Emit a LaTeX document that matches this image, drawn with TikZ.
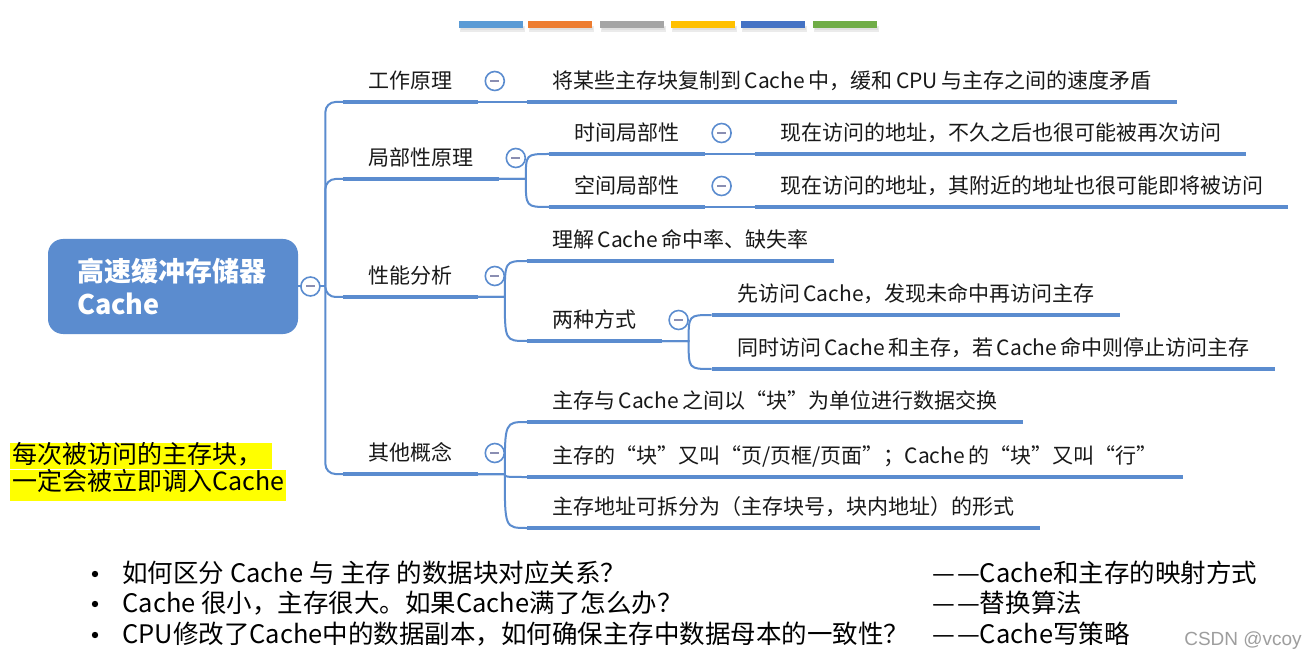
\documentclass[tikz,border=0pt]{standalone}
\usepackage{fontspec}
\setmainfont{Noto Sans CJK SC}
\newfontfamily\wmfont{Liberation Sans}
\usepackage{xcolor}
\usepackage{tikz}
\usetikzlibrary{positioning,calc}

\definecolor{mapblue}{RGB}{91,140,207}
\definecolor{minusgray}{RGB}{138,142,178}
\definecolor{hlyellow}{RGB}{255,255,0}
\definecolor{barA}{HTML}{5B9BD5}
\definecolor{barB}{HTML}{ED7D31}
\definecolor{barC}{HTML}{A5A5A5}
\definecolor{barD}{HTML}{FFC000}
\definecolor{barE}{HTML}{4472C4}
\definecolor{barF}{HTML}{70AD47}

\tikzset{
  root/.style={fill=mapblue, rounded corners=7.5pt, minimum width=125pt, minimum height=47.5pt,
    text width=96pt, align=left, text=white, font=\fontsize{13.5}{16.5}\selectfont\bfseries},
  topic/.style={anchor=south west, inner xsep=12.5pt, inner ysep=5pt, text height=8.5pt,
    text depth=1.5pt, text=black!90, font=\fontsize{10.5}{12}\selectfont},
  ubar/.style={mapblue, line width=2.2pt},
  link/.style={mapblue, line width=1pt},
  fold/.style={circle, draw=mapblue, fill=white, line width=0.8pt, minimum size=9.5pt, inner sep=0pt,
    path picture={\draw[minusgray, line width=1pt] ([xshift=-2.2pt]path picture bounding box.center)
      -- ([xshift=2.2pt]path picture bounding box.center);}},
  ask/.style={anchor=west, inner sep=0pt, font=\fontsize{12.75}{15}\selectfont},
  dot/.style={circle, fill=black, minimum size=3.2pt, inner sep=0pt},
  hl/.style={anchor=north west, fill=hlyellow, inner xsep=1pt, inner ysep=0pt, text height=10pt,
    text depth=3pt, font=\fontsize{12.5}{14}\selectfont},
  wm/.style={text=black!38, font=\wmfont\fontsize{9.5}{11}\selectfont},
}

\begin{document}
\begin{tikzpicture}[x=0.5pt,y=-0.5pt]
\useasboundingbox (0,0) rectangle (1315,662);
\fill[white] (0,0) rectangle (1315,662);

% colour bars on top
\foreach \x/\c in {459/barA,528/barB,600/barC,671/barD,741/barE,813/barF}{
  \fill[black!8] (\x+1,26) rectangle (\x+66,32);
  \fill[black!12] (\x+2,27) rectangle (\x+65,30);
  \fill[\c] (\x,21) rectangle (\x+64,28);
}

% central topic
\node[root] (root) at (173,286.5) {高速缓冲存储器\\Cache};

% first level
\node[topic] (gzyl) at (343,102) {工作原理};
\node[topic] (jbx) at (343,179) {局部性原理};
\node[topic] (xnfx) at (343,297) {性能分析};
\node[topic] (qtgn) at (343,474) {其他概念};

% further levels
\node[topic] (gzyl1) at ($(gzyl.south east)+(49,0)$) {将某些主存块复制到\,Cache\,中，缓和\,CPU\,与主存之间的速度矛盾};
\node[topic] (sjjbx) at ($(jbx.south east)+(50,-25)$) {时间局部性};
\node[topic] (kjjbx) at ($(jbx.south east)+(50,28)$) {空间局部性};
\node[topic] (sjjbx1) at ($(sjjbx.south east)+(50,0)$) {现在访问的地址，不久之后也很可能被再次访问};
\node[topic] (kjjbx1) at ($(kjjbx.south east)+(50,0)$) {现在访问的地址，其附近的地址也很可能即将被访问};
\node[topic] (mzl) at ($(xnfx.south east)+(49,-36)$) {理解\,Cache\,命中率、缺失率};
\node[topic] (lzfs) at ($(xnfx.south east)+(49,44)$) {两种方式};
\node[topic] (lzfs1) at ($(lzfs.south east)+(50,-26)$) {先访问\,Cache，发现未命中再访问主存};
\node[topic] (lzfs2) at ($(lzfs.south east)+(50,28)$) {同时访问\,Cache\,和主存，若\,Cache\,命中则停止访问主存};
\node[topic] (gn1) at ($(qtgn.south east)+(49,-52)$) {主存与\,Cache\,之间以“块”为单位进行数据交换};
\node[topic] (gn2) at ($(qtgn.south east)+(49,3)$) {主存的“块”又叫“页/页框/页面”；Cache\,的“块”又叫“行”};
\node[topic] (gn3) at ($(qtgn.south east)+(49,54)$) {主存地址可拆分为（主存块号，块内地址）的形式};

% trunk
\draw[link] (root.east) -- ++(27,0) coordinate (trunk);
\foreach \n in {gzyl,jbx,xnfx,qtgn}
  \draw[link, rounded corners=5pt] (trunk) |- (\n.south west);

% branches
\draw[link] (gzyl.south east) -- (gzyl1.south west);
\draw[link] (sjjbx.south east) -- (sjjbx1.south west);
\draw[link] (kjjbx.south east) -- (kjjbx1.south west);
\foreach \n in {jbx,xnfx,lzfs,qtgn}
  \coordinate (\n-j) at ($(\n.south east)+(27,0)$);
\foreach \p/\c in {jbx/sjjbx,jbx/kjjbx,xnfx/mzl,xnfx/lzfs,lzfs/lzfs1,lzfs/lzfs2,qtgn/gn1,qtgn/gn2,qtgn/gn3}
  \draw[link] (\p.south east) -- (\p-j) .. controls (\p-j |- \c.south west) .. (\c.south west);

% underlines
\foreach \n in {gzyl,jbx,xnfx,qtgn,gzyl1,sjjbx,kjjbx,sjjbx1,kjjbx1,mzl,lzfs,lzfs1,lzfs2,gn1,gn2,gn3}
  \draw[ubar] (\n.south west) -- (\n.south east);

% collapse buttons
\node[fold] (root-f) at ($(root.east)+(12,0)$) {};
\foreach \n in {gzyl,jbx,xnfx,qtgn,sjjbx,kjjbx,lzfs}
  \node[fold] (\n-f) at ($(\n.south east)+(17,-21)$) {};

% highlighted note
\node[hl, text width=129pt, align=left] (hl1) at (10,443) {每次被访问的主存块，};
\node[hl, text depth=5.5pt] (hl2) at (hl1.south west) {一定会被立即调入Cache};

% questions
\node[ask] (q1) at (122,573) {如何区分 Cache 与 主存 的数据块对应关系？};
\node[ask] (q2) at (122,603) {Cache 很小，主存很大。如果Cache满了怎么办？};
\node[ask] (q3) at (122,634) {CPU修改了Cache中的数据副本，如何确保主存中数据母本的一致性？};
\foreach \q in {q1,q2,q3}
  \node[dot] (\q-b) at ($(\q.west)+(-27,1)$) {};
\node[ask] (a1) at (932,573) {—\kern1pt—Cache和主存的映射方式};
\node[ask] (a2) at (932,603) {—\kern1pt—替换算法};
\node[ask] (a3) at (932,634) {—\kern1pt—Cache写策略};

\node[wm] (csdn) at (1243,641) {CSDN @vcoy};
\end{tikzpicture}
\end{document}
